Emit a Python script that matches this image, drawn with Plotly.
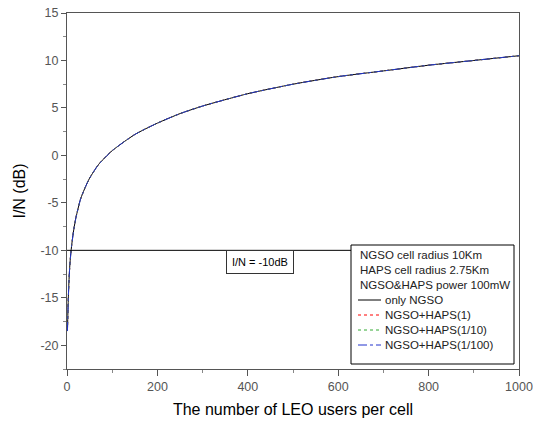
import plotly.graph_objects as go

# Values
users = [1, 2, 3, 5, 7, 10, 15, 20, 30, 40, 50, 70, 100, 150, 200, 250, 300,
         400, 500, 600, 700, 800, 900, 1000]
only_ngso = [-18.5, -16.6, -14.9, -12.6, -11.1, -9.6, -7.8, -6.5, -4.6, -3.4,
             -2.4, -0.95, 0.5, 2.2, 3.4, 4.4, 5.2, 6.5, 7.5, 8.3, 8.9, 9.5, 10.0, 10.5]
ngso_haps_1 = list(only_ngso)
ngso_haps_10 = list(only_ngso)
ngso_haps_100 = list(only_ngso)
series_names = ["only NGSO", "NGSO+HAPS(1)", "NGSO+HAPS(1/10)", "NGSO+HAPS(1/100)"]
legend_header = ["NGSO cell radius 10Km", "HAPS cell radius 2.75Km", "NGSO&HAPS power 100mW"]
threshold_db = -10
x_ticks = [0, 200, 400, 600, 800, 1000]
y_ticks = [-20, -15, -10, -5, 0, 5, 10, 15]

FONT = "Liberation Sans, Arial, sans-serif"

# plot area geometry (pixels) used to place the hand-made legend box
L, T, W, H = 67, 13, 452, 356
X0, X1, Y0, Y1 = 0, 1000, -22.5, 15
def dx(px):
    return X0 + (px - L) / W * (X1 - X0)
def dy(py):
    return Y1 - (py - T) / H * (Y1 - Y0)

fig = go.Figure()
styles = [("black", "solid"), ("red", "dot"), ("#33aa33", "dot"), ("#2233cc", "dashdot")]
for name, vals, (col, dash) in zip(series_names,
                                   [only_ngso, ngso_haps_1, ngso_haps_10, ngso_haps_100],
                                   styles):
    fig.add_trace(go.Scatter(x=users, y=vals, mode="lines", name=name, showlegend=False,
                             line=dict(color=col, dash=dash, width=1, shape="spline",
                                       smoothing=0.6)))

# legend box
box_l, box_r, box_t, box_b = 351, 514, 245, 364
fig.add_shape(type="rect", x0=dx(box_l), x1=dx(box_r), y0=dy(box_b), y1=dy(box_t),
              xref="x", yref="y", line=dict(color="black", width=1), fillcolor="white",
              layer="above")

# threshold line up to the legend box
fig.add_shape(type="line", x0=0, x1=dx(box_l), y0=threshold_db, y1=threshold_db,
              xref="x", yref="y", line=dict(color="black", width=1))

fig.add_annotation(x=dx(260), y=dy(262), xref="x", yref="y", text="I/N = -10dB",
                   showarrow=False, font=dict(family=FONT, size=11, color="black"),
                   bordercolor="#333", borderwidth=1, borderpad=5, bgcolor="white")

LS = 15  # legend line spacing in px
FS = 11.5
for i, txt in enumerate(legend_header):
    fig.add_annotation(x=dx(358), y=dy(255 + i * LS), xref="x", yref="y", text=txt,
                       showarrow=False, xanchor="left", yanchor="middle",
                       font=dict(family=FONT, size=FS, color="#222"))
for j, (name, (col, dash)) in enumerate(zip(series_names, styles)):
    yy = dy(300 + j * LS)
    fig.add_shape(type="line", x0=dx(358), x1=dx(381), y0=yy, y1=yy, xref="x", yref="y",
                  line=dict(color=col, dash=dash, width=1))
    fig.add_annotation(x=dx(383), y=yy, xref="x", yref="y", text=name,
                       showarrow=False, xanchor="left", yanchor="middle",
                       font=dict(family=FONT, size=FS, color="#222"))

fig.update_layout(
    width=533, height=426,
    margin=dict(l=67, r=14, t=13, b=57),
    paper_bgcolor="white", plot_bgcolor="white",
    font=dict(family=FONT, color="black"),
    showlegend=False,
    xaxis=dict(range=[X0, X1], tickvals=x_ticks, ticks="outside", ticklen=6,
               automargin=False,
               tickcolor="#555", showline=True, linecolor="#555", mirror=True,
               showgrid=False, zeroline=False,
               tickfont=dict(family=FONT, size=12.5, color="#555"),
               minor=dict(dtick=100, ticks="outside", ticklen=3, tickcolor="#888"),
               title=dict(text="The number of LEO users per cell",
                          font=dict(family=FONT, size=16, color="black"), standoff=10)),
    yaxis=dict(range=[Y0, Y1], tickvals=y_ticks, ticktext=[str(v) for v in y_ticks],
               ticks="outside", ticklen=5, automargin=False,
               tickcolor="#555", showline=True, linecolor="#555", mirror=True,
               showgrid=False, zeroline=False,
               tickfont=dict(family=FONT, size=12.5, color="#555"),
               minor=dict(dtick=2.5, ticks="outside", ticklen=3, tickcolor="#888"),
               title=dict(text="I/N (dB)", font=dict(family=FONT, size=16, color="black"),
                          standoff=10)),
)

fig.write_html("out.html")
